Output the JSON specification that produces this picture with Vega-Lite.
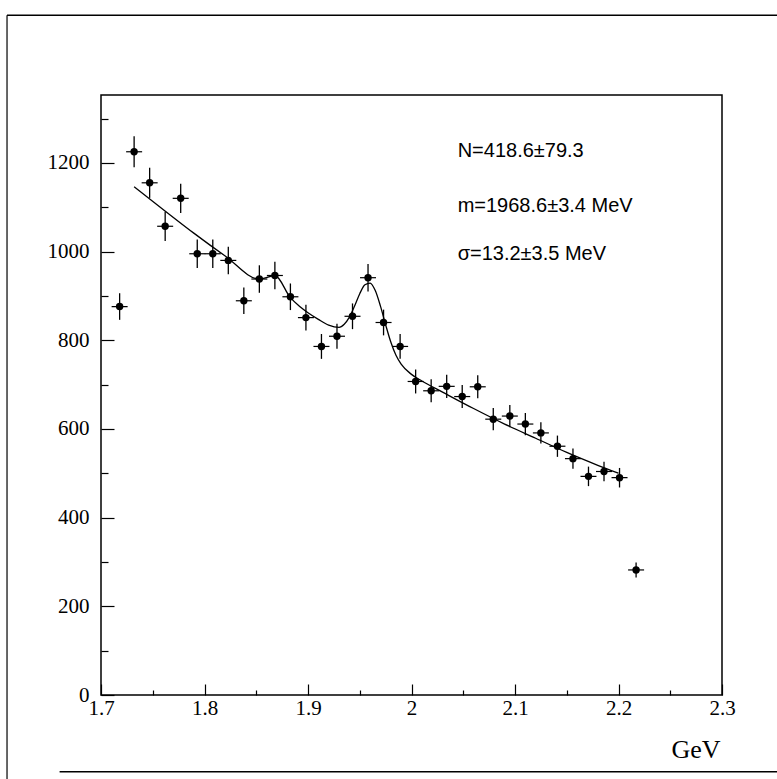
{
  "$schema": "https://vega.github.io/schema/vega-lite/v6.json",
  "width": 621,
  "height": 600,
  "autosize": {"type": "none"},
  "padding": {"left": 101, "top": 95, "right": 55, "bottom": 84},
  "background": "white",
  "config": {"view": {"stroke": "black", "strokeWidth": 1.5}},
  "datasets": {
    "hist": [
      {"x": 1.718, "n": 876, "lo": 846, "hi": 906},
      {"x": 1.732, "n": 1225, "lo": 1190, "hi": 1260},
      {"x": 1.747, "n": 1155, "lo": 1121, "hi": 1189},
      {"x": 1.762, "n": 1057, "lo": 1024, "hi": 1090},
      {"x": 1.777, "n": 1120, "lo": 1087, "hi": 1153},
      {"x": 1.793, "n": 995, "lo": 963, "hi": 1027},
      {"x": 1.808, "n": 995, "lo": 963, "hi": 1027},
      {"x": 1.823, "n": 980, "lo": 949, "hi": 1011},
      {"x": 1.838, "n": 889, "lo": 859, "hi": 919},
      {"x": 1.853, "n": 938, "lo": 907, "hi": 969},
      {"x": 1.868, "n": 946, "lo": 915, "hi": 977},
      {"x": 1.883, "n": 898, "lo": 868, "hi": 928},
      {"x": 1.898, "n": 851, "lo": 822, "hi": 880},
      {"x": 1.913, "n": 786, "lo": 758, "hi": 814},
      {"x": 1.928, "n": 809, "lo": 781, "hi": 837},
      {"x": 1.943, "n": 854, "lo": 825, "hi": 883},
      {"x": 1.958, "n": 941, "lo": 910, "hi": 972},
      {"x": 1.973, "n": 840, "lo": 811, "hi": 869},
      {"x": 1.989, "n": 786, "lo": 758, "hi": 814},
      {"x": 2.004, "n": 707, "lo": 680, "hi": 734},
      {"x": 2.019, "n": 686, "lo": 660, "hi": 712},
      {"x": 2.034, "n": 696, "lo": 670, "hi": 722},
      {"x": 2.049, "n": 673, "lo": 647, "hi": 699},
      {"x": 2.064, "n": 695, "lo": 669, "hi": 721},
      {"x": 2.079, "n": 622, "lo": 597, "hi": 647},
      {"x": 2.095, "n": 629, "lo": 604, "hi": 654},
      {"x": 2.110, "n": 611, "lo": 586, "hi": 636},
      {"x": 2.125, "n": 591, "lo": 567, "hi": 615},
      {"x": 2.141, "n": 561, "lo": 537, "hi": 585},
      {"x": 2.156, "n": 533, "lo": 510, "hi": 556},
      {"x": 2.171, "n": 493, "lo": 471, "hi": 515},
      {"x": 2.186, "n": 504, "lo": 482, "hi": 526},
      {"x": 2.201, "n": 490, "lo": 468, "hi": 512},
      {"x": 2.217, "n": 282, "lo": 265, "hi": 299}
    ],
    "fit": [
      {"x": 1.732, "y": 1146},
      {"x": 1.76, "y": 1095},
      {"x": 1.79, "y": 1041},
      {"x": 1.82, "y": 990},
      {"x": 1.853, "y": 938},
      {"x": 1.868, "y": 946},
      {"x": 1.883, "y": 896},
      {"x": 1.892, "y": 876},
      {"x": 1.90, "y": 862},
      {"x": 1.91, "y": 847},
      {"x": 1.92, "y": 834},
      {"x": 1.93, "y": 829},
      {"x": 1.935, "y": 836},
      {"x": 1.94, "y": 852},
      {"x": 1.945, "y": 877},
      {"x": 1.95, "y": 905},
      {"x": 1.955, "y": 925},
      {"x": 1.96, "y": 929},
      {"x": 1.965, "y": 912},
      {"x": 1.97, "y": 877},
      {"x": 1.975, "y": 835},
      {"x": 1.98, "y": 796},
      {"x": 1.985, "y": 766},
      {"x": 1.99, "y": 746},
      {"x": 2.0, "y": 723},
      {"x": 2.01, "y": 708},
      {"x": 2.03, "y": 683},
      {"x": 2.06, "y": 646},
      {"x": 2.09, "y": 611},
      {"x": 2.12, "y": 579},
      {"x": 2.15, "y": 547},
      {"x": 2.18, "y": 518},
      {"x": 2.20, "y": 500}
    ]
  },
  "layer": [
    {
      "data": {"name": "hist"},
      "mark": {"type": "rule", "color": "black", "strokeWidth": 1.3},
      "encoding": {
        "x": {
          "field": "x", "type": "quantitative",
          "scale": {"domain": [1.7, 2.3], "nice": false, "zero": false},
          "axis": {
            "title": "GeV",
            "values": [1.7, 1.725, 1.75, 1.775, 1.8, 1.825, 1.85, 1.875, 1.9, 1.925, 1.95, 1.975, 2.0, 2.025, 2.05, 2.075, 2.1, 2.125, 2.15, 2.175, 2.2, 2.225, 2.25, 2.275, 2.3],
            "labelExpr": "abs(datum.value*10-round(datum.value*10))<0.001 ? format(datum.value,'~g') : ''",
            "tickSize": {"condition": {"test": "abs(datum.value*10-round(datum.value*10))<0.001", "value": -11}, "value": -5},
            "tickColor": "black",
            "tickWidth": 1.2,
            "domain": false,
            "grid": false,
            "labelFont": "Liberation Serif",
            "labelFontSize": 21,
            "labelColor": "black",
            "labelPadding": 13,
            "labelFlush": false,
            "labelOverlap": false,
            "labelBaseline": "top",
            "titleFont": "Liberation Serif",
            "titleFontSize": 26,
            "titleFontWeight": "normal",
            "titleColor": "black",
            "titleAnchor": "end",
            "titleAlign": "right",
            "titleBaseline": "alphabetic",
            "titleX": 619,
            "titleY": 62
          }
        },
        "y": {
          "field": "lo", "type": "quantitative",
          "scale": {"domain": [0, 1353], "nice": false, "zero": false},
          "axis": {
            "title": null,
            "values": [0, 50, 100, 150, 200, 250, 300, 350, 400, 450, 500, 550, 600, 650, 700, 750, 800, 850, 900, 950, 1000, 1050, 1100, 1150, 1200, 1250, 1300, 1350],
            "format": "d",
            "labelExpr": "datum.value % 200 === 0 ? datum.label : ''",
            "tickSize": {"condition": {"test": "datum.value % 200 === 0", "value": -13}, "value": -7},
            "tickColor": "black",
            "tickWidth": 1.2,
            "domain": false,
            "grid": false,
            "labelFont": "Liberation Serif",
            "labelFontSize": 21,
            "labelColor": "black",
            "labelPadding": 25,
            "labelFlush": false,
            "labelOverlap": false
          }
        },
        "y2": {"field": "hi"}
      }
    },
    {
      "data": {"name": "hist"},
      "mark": {"type": "tick", "orient": "horizontal", "color": "black", "size": 16, "thickness": 1.2, "opacity": 1},
      "encoding": {
        "x": {"field": "x", "type": "quantitative"},
        "y": {"field": "n", "type": "quantitative"}
      }
    },
    {
      "data": {"name": "hist"},
      "mark": {"type": "circle", "color": "black", "size": 55, "opacity": 1},
      "encoding": {
        "x": {"field": "x", "type": "quantitative"},
        "y": {"field": "n", "type": "quantitative"}
      }
    },
    {
      "data": {"name": "fit"},
      "mark": {"type": "line", "color": "black", "strokeWidth": 1.3, "interpolate": "monotone"},
      "encoding": {
        "x": {"field": "x", "type": "quantitative"},
        "y": {"field": "y", "type": "quantitative"}
      }
    },
    {
      "data": {"values": [{}]},
      "mark": {"type": "text", "align": "left", "baseline": "alphabetic", "font": "Liberation Sans", "fontSize": 20, "color": "black"},
      "encoding": {
        "x": {"datum": 2.0446, "type": "quantitative"},
        "y": {"datum": 1213, "type": "quantitative"},
        "text": {"value": "N=418.6±79.3"}
      }
    },
    {
      "data": {"values": [{}]},
      "mark": {"type": "text", "align": "left", "baseline": "alphabetic", "font": "Liberation Sans", "fontSize": 20, "color": "black"},
      "encoding": {
        "x": {"datum": 2.0446, "type": "quantitative"},
        "y": {"datum": 1089, "type": "quantitative"},
        "text": {"value": "m=1968.6±3.4 MeV"}
      }
    },
    {
      "data": {"values": [{}]},
      "mark": {"type": "text", "align": "left", "baseline": "alphabetic", "font": "Liberation Sans", "fontSize": 20, "color": "black"},
      "encoding": {
        "x": {"datum": 2.0446, "type": "quantitative"},
        "y": {"datum": 980, "type": "quantitative"},
        "text": {"value": "σ=13.2±3.5 MeV"}
      }
    },
    {
      "data": {"values": [{}]},
      "mark": {"type": "rule", "color": "black", "strokeWidth": 1.6, "clip": false},
      "encoding": {
        "x": {"datum": 1.6092, "type": "quantitative"},
        "x2": {"datum": 2.36},
        "y": {"datum": 1533, "type": "quantitative"}
      }
    },
    {
      "data": {"values": [{}]},
      "mark": {"type": "rule", "color": "black", "strokeWidth": 1.2, "clip": false},
      "encoding": {
        "x": {"datum": 1.6092, "type": "quantitative"},
        "y": {"datum": 1533, "type": "quantitative"},
        "y2": {"datum": -195}
      }
    },
    {
      "data": {"values": [{}]},
      "mark": {"type": "rule", "color": "black", "strokeWidth": 1.6, "clip": false},
      "encoding": {
        "x": {"datum": 1.66, "type": "quantitative"},
        "x2": {"datum": 2.36},
        "y": {"datum": -173, "type": "quantitative"}
      }
    }
  ]
}
